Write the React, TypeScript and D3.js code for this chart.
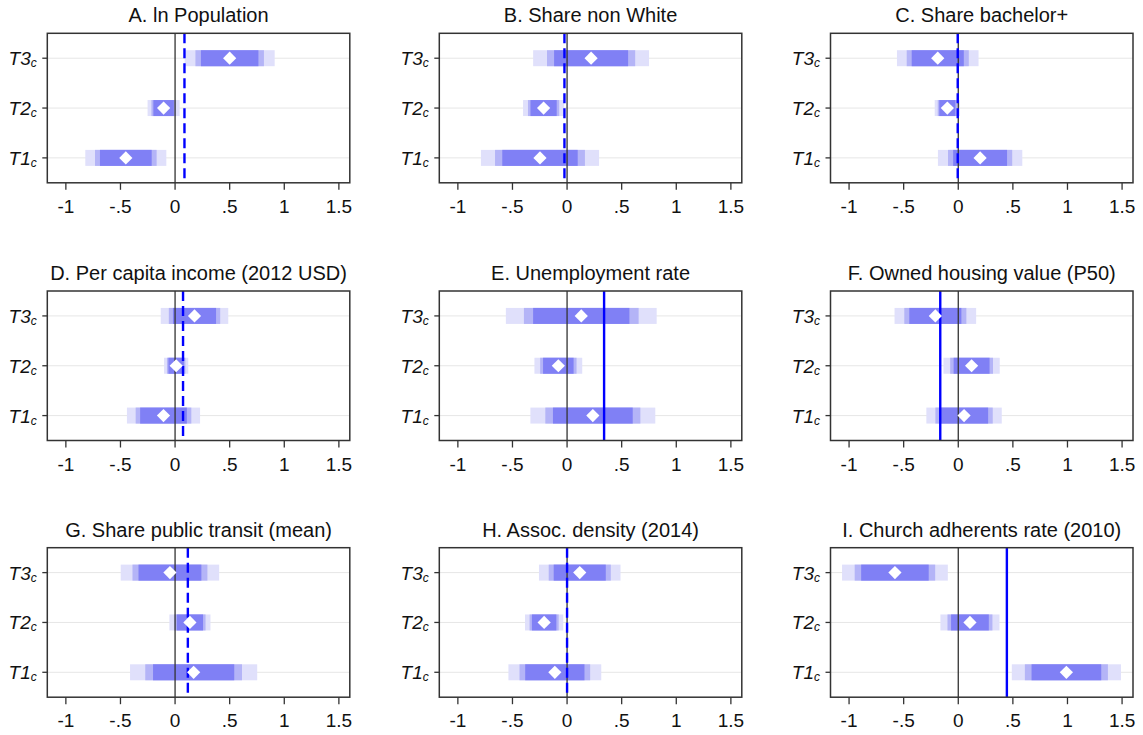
import React from "react";
import * as d3 from "d3";

// ---- Data ----
const panelTitles = [
  "A. ln Population",
  "B. Share non White",
  "C. Share bachelor+",
  "D. Per capita income (2012 USD)",
  "E. Unemployment rate",
  "F. Owned housing value (P50)",
  "G. Share public transit (mean)",
  "H. Assoc. density (2014)",
  "I. Church adherents rate (2010)",
];

const rowLabels = ["T1", "T2", "T3"]; // drawn bottom to top

// point estimates per panel: [T1, T2, T3]
const estimates: number[][] = [
  [-0.451, -0.105, 0.5],
  [-0.248, -0.215, 0.22],
  [0.2, -0.1, -0.188],
  [-0.106, 0.01, 0.178],
  [0.236, -0.08, 0.13],
  [0.053, 0.122, -0.21],
  [0.17, 0.136, -0.047],
  [-0.112, -0.21, 0.116],
  [0.99, 0.107, -0.58],
];

// standard errors per panel: [T1, T2, T3]
const stdErrors: number[][] = [
  [0.144, 0.057, 0.16],
  [0.21, 0.073, 0.206],
  [0.15, 0.045, 0.145],
  [0.13, 0.043, 0.12],
  [0.222, 0.085, 0.268],
  [0.134, 0.1, 0.145],
  [0.226, 0.073, 0.175],
  [0.165, 0.068, 0.145],
  [0.194, 0.105, 0.188],
];

// reference (blue) line per panel
const refValues = [0.086, -0.024, -0.005, 0.073, 0.339, -0.165, 0.117, 0.0, 0.445];
const refDashed = [true, true, true, true, false, false, true, true, false];

// confidence levels 99 / 95 / 90 (outer to inner)
const ciZ = [2.576, 1.96, 1.645];
const ciColors = ["#e0e0fb", "#b4b4f7", "#8080f5"];

const xTicks = [-1, -0.5, 0, 0.5, 1, 1.5];
const xTickLabels = ["-1", "-.5", "0", ".5", "1", "1.5"];

// ---- Layout ----
const colLeft = [47.3, 439.3, 830.5];
const rowTop = [33.3, 291, 547.7];
const PW = 302.5;
const PH = 149.5;
const FONT = "'Liberation Sans', Arial, Helvetica, sans-serif";

function Panel({ idx }: { idx: number }) {
  const left = colLeft[idx % 3];
  const top = rowTop[Math.floor(idx / 3)];
  const x = d3.scaleLinear().domain([-1.17, 1.6]).range([0, PW]);
  const y = d3.scaleLinear().domain([0.5, 3.5]).range([PH, 0]);
  const barH = 16;
  const dm = 6.6;
  const diamond = d3.symbol().type(d3.symbolSquare).size(2 * dm * dm)();

  return (
    <g transform={`translate(${left},${top})`}>
      <text
        x={PW / 2}
        y={-11}
        textAnchor="middle"
        fontSize={20}
        fontFamily={FONT}
        fill="#111"
      >
        {panelTitles[idx]}
      </text>
      {/* gridlines */}
      {rowLabels.map((_, i) => (
        <line
          key={"g" + i}
          x1={0}
          x2={PW}
          y1={y(i + 1)}
          y2={y(i + 1)}
          stroke="#e6e6e6"
          strokeWidth={1}
        />
      ))}
      {/* CI bars */}
      {rowLabels.map((_, i) =>
        ciZ.map((z, k) => {
          const est = estimates[idx][i];
          const se = stdErrors[idx][i];
          const x0 = x(est - z * se);
          const x1 = x(est + z * se);
          return (
            <rect
              key={"b" + i + "-" + k}
              x={x0}
              y={y(i + 1) - barH / 2}
              width={x1 - x0}
              height={barH}
              fill={ciColors[k]}
            />
          );
        })
      )}
      {/* zero line */}
      <line x1={x(0)} x2={x(0)} y1={0} y2={PH} stroke="#333" strokeWidth={1.3} />
      {/* reference line */}
      <line
        x1={x(refValues[idx])}
        x2={x(refValues[idx])}
        y1={0}
        y2={PH}
        stroke="#0000ff"
        strokeWidth={2.4}
        strokeDasharray={refDashed[idx] ? "10 5" : undefined}
      />
      {/* point estimates */}
      {rowLabels.map((_, i) => (
        <path
          key={"d" + i}
          d={diamond || ""}
          transform={`translate(${x(estimates[idx][i])},${y(i + 1)}) rotate(45)`}
          fill="#ffffff"
        />
      ))}
      {/* frame */}
      <rect x={0} y={0} width={PW} height={PH} fill="none" stroke="#333" strokeWidth={1.5} />
      {/* x ticks */}
      {xTicks.map((t, i) => (
        <g key={"xt" + i} transform={`translate(${x(t)},${PH})`}>
          <line y1={0} y2={7} stroke="#333" strokeWidth={1.3} />
          <text y={30} textAnchor="middle" fontSize={19} fontFamily={FONT} fill="#111">
            {xTickLabels[i]}
          </text>
        </g>
      ))}
      {/* y ticks */}
      {rowLabels.map((lab, i) => (
        <g key={"yt" + i} transform={`translate(0,${y(i + 1)})`}>
          <line x1={-5} x2={0} stroke="#333" strokeWidth={1.3} />
          <text
            x={-10.5}
            y={7}
            textAnchor="end"
            fontSize={19}
            fontStyle="italic"
            fontFamily={FONT}
            fill="#111"
          >
            {lab}
            <tspan fontSize={12} dy={2}>
              c
            </tspan>
          </text>
        </g>
      ))}
    </g>
  );
}

export default function App() {
  return (
    <svg
      width={1143}
      height={735}
      style={{ position: "absolute", left: 0, top: 0, background: "#fff" }}
    >
      <rect width={1143} height={735} fill="#fff" />
      {panelTitles.map((_, i) => (
        <Panel key={i} idx={i} />
      ))}
    </svg>
  );
}
